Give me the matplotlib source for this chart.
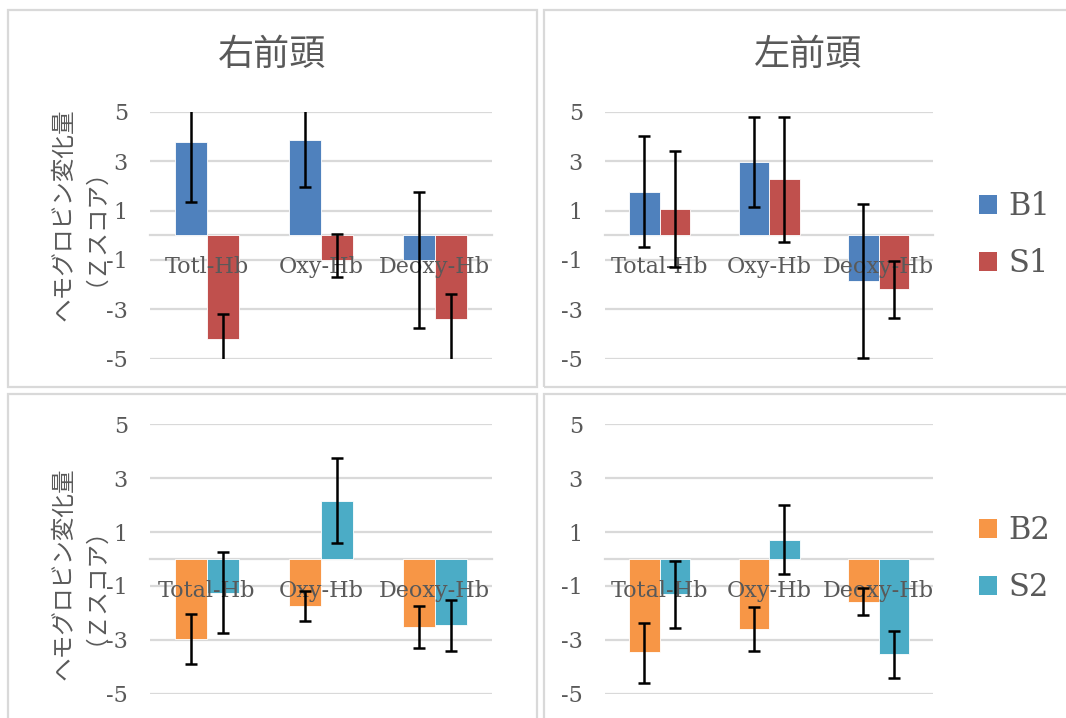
import matplotlib
matplotlib.use("Agg")
import matplotlib.pyplot as plt
from matplotlib.patches import Rectangle, Patch
import numpy as np

# ---------------- data ----------------
categories_tl = ["Totl-Hb", "Oxy-Hb", "Deoxy-Hb"]
categories = ["Total-Hb", "Oxy-Hb", "Deoxy-Hb"]
titles = ["右前頭", "左前頭"]
yticks = [-5, -3, -1, 1, 3, 5]

# top-left (右前頭) B1 / S1
b1_right = [3.78, 3.85, -1.01]
b1_right_lo = [2.43, 1.88, 2.75]
b1_right_hi = [2.43, 1.88, 2.75]
s1_right = [-4.19, -0.99, -3.40]
s1_right_lo = [1.00, 0.70, 1.70]
s1_right_hi = [1.00, 1.02, 1.00]

# top-right (左前頭) B1 / S1
b1_left = [1.76, 2.96, -1.86]
b1_left_lo = [2.24, 1.81, 3.12]
b1_left_hi = [2.24, 1.81, 3.12]
s1_left = [1.05, 2.26, -2.19]
s1_left_lo = [2.34, 2.52, 1.15]
s1_left_hi = [2.34, 2.52, 1.15]

# bottom-left (右前頭) B2 / S2
b2_right = [-2.97, -1.73, -2.51]
b2_right_lo = [0.94, 0.57, 0.81]
b2_right_hi = [0.93, 0.53, 0.78]
s2_right = [-1.25, 2.15, -2.45]
s2_right_lo = [1.51, 1.56, 0.95]
s2_right_hi = [1.50, 1.60, 0.93]

# bottom-right (左前頭) B2 / S2
b2_left = [-3.47, -2.60, -1.59]
b2_left_lo = [1.12, 0.83, 0.49]
b2_left_hi = [1.08, 0.83, 0.52]
s2_left = [-1.30, 0.69, -3.53]
s2_left_lo = [1.25, 1.25, 0.87]
s2_left_hi = [1.24, 1.30, 0.86]

ylabel = "ヘモグロビン変化量\n（Ｚスコア）"

# ---------------- style ----------------
C_B1 = "#4F81BD"
C_S1 = "#C0504D"
C_B2 = "#F79646"
C_S2 = "#4BACC6"
GRID = "#D9D9D9"
TXT = "#595959"
SERIF = ["DejaVu Serif"]
CJK = ["Noto Sans CJK JP", "DejaVu Sans"]

W, H = 1066, 718
fig = plt.figure(figsize=(W / 100, H / 100), dpi=100)


def fx(px):
    return px / W


def fy(py):
    return 1 - py / H


def panel_border(x0, y0, x1, y1):
    fig.patches.append(Rectangle((fx(x0), fy(y1)), fx(x1) - fx(x0), fy(y0) - fy(y1),
                                 transform=fig.transFigure, fill=False,
                                 edgecolor=GRID, linewidth=1.6, zorder=0))


panel_border(8, 10, 537, 387)
panel_border(544, 10, 1070, 387)
panel_border(8, 394, 537, 725)
panel_border(544, 394, 1070, 725)


def make_ax(x0, x1, ytop, ybot, cats, v1, lo1, hi1, v2, lo2, hi2, c1, c2):
    ax = fig.add_axes([fx(x0), fy(ybot), fx(x1) - fx(x0), fy(ytop) - fy(ybot)])
    x = np.arange(len(cats))
    w = 0.28
    ax.bar(x - w / 2, v1, w, color=c1, edgecolor="white", linewidth=0.6, zorder=2)
    ax.bar(x + w / 2, v2, w, color=c2, edgecolor="white", linewidth=0.6, zorder=2)
    ax.set_xlim(-0.5, len(cats) - 0.5)
    ax.set_ylim(-5, 5)
    ax.set_yticks(yticks)
    ax.set_yticklabels([str(t) for t in yticks], family=SERIF, fontsize=16, color=TXT)
    ax.yaxis.grid(True, color=GRID, linewidth=1.6, zorder=0)
    ax.set_axisbelow(True)
    for s in ["left", "right", "top"]:
        ax.spines[s].set_visible(False)
    ax.spines["bottom"].set_position(("data", 0))
    ax.spines["bottom"].set_color(GRID)
    ax.spines["bottom"].set_linewidth(1.6)
    ax.spines["bottom"].set_zorder(1)
    ax.set_xticks(x)
    ax.set_xticklabels([])
    ax.tick_params(axis="x", length=0)
    ax.tick_params(axis="y", length=0, pad=16)
    # category labels drawn on top of the bars, just below the zero line
    for i, c in enumerate(cats):
        ax.annotate(c, xy=(x[i], 0), xytext=(0, -15), textcoords="offset points",
                    ha="center", va="top", family=SERIF, fontsize=16, color=TXT,
                    zorder=4, annotation_clip=False)
    ekw = dict(fmt="none", ecolor="black", elinewidth=1.8, capsize=4.3, capthick=1.8, zorder=5)
    ax.errorbar(x - w / 2, v1, yerr=[lo1, hi1], **ekw)
    ax.errorbar(x + w / 2, v2, yerr=[lo2, hi2], **ekw)
    ax.patch.set_alpha(0)
    return ax


ax_tl = make_ax(150, 491.7, 111.7, 358.7, categories_tl,
                b1_right, b1_right_lo, b1_right_hi, s1_right, s1_right_lo, s1_right_hi, C_B1, C_S1)
ax_tr = make_ax(605, 933.3, 111.7, 358.7, categories,
                b1_left, b1_left_lo, b1_left_hi, s1_left, s1_left_lo, s1_left_hi, C_B1, C_S1)
ax_bl = make_ax(150, 491.7, 424.3, 693.7, categories,
                b2_right, b2_right_lo, b2_right_hi, s2_right, s2_right_lo, s2_right_hi, C_B2, C_S2)
ax_br = make_ax(605, 933.3, 424.3, 693.7, categories,
                b2_left, b2_left_lo, b2_left_hi, s2_left, s2_left_lo, s2_left_hi, C_B2, C_S2)

# titles
fig.text(fx(272), fy(55), titles[0], family=CJK, fontsize=26, color=TXT, ha="center", va="center")
fig.text(fx(808), fy(55), titles[1], family=CJK, fontsize=26, color=TXT, ha="center", va="center")

# y labels
fig.text(fx(74), fy(215), ylabel, family=CJK, fontsize=17, color=TXT, rotation=90,
         ha="center", va="center", multialignment="center", linespacing=0.8)
fig.text(fx(74), fy(574), ylabel, family=CJK, fontsize=17, color=TXT, rotation=90,
         ha="center", va="center", multialignment="center", linespacing=0.8)


# legends
def legend(labels, colors, ycenter):
    handles = [Patch(facecolor=c, edgecolor="none") for c in colors]
    fig.legend(handles, labels, loc="center left", bbox_to_anchor=(fx(979), fy(ycenter)),
               frameon=False, prop={"family": SERIF, "size": 22}, labelcolor=TXT,
               handlelength=0.6, handleheight=0.6, handletextpad=0.35, labelspacing=0.85,
               borderpad=0, borderaxespad=0)


legend(["B1", "S1"], [C_B1, C_S1], 235)
legend(["B2", "S2"], [C_B2, C_S2], 559)

fig.savefig("out.png", dpi=100)
